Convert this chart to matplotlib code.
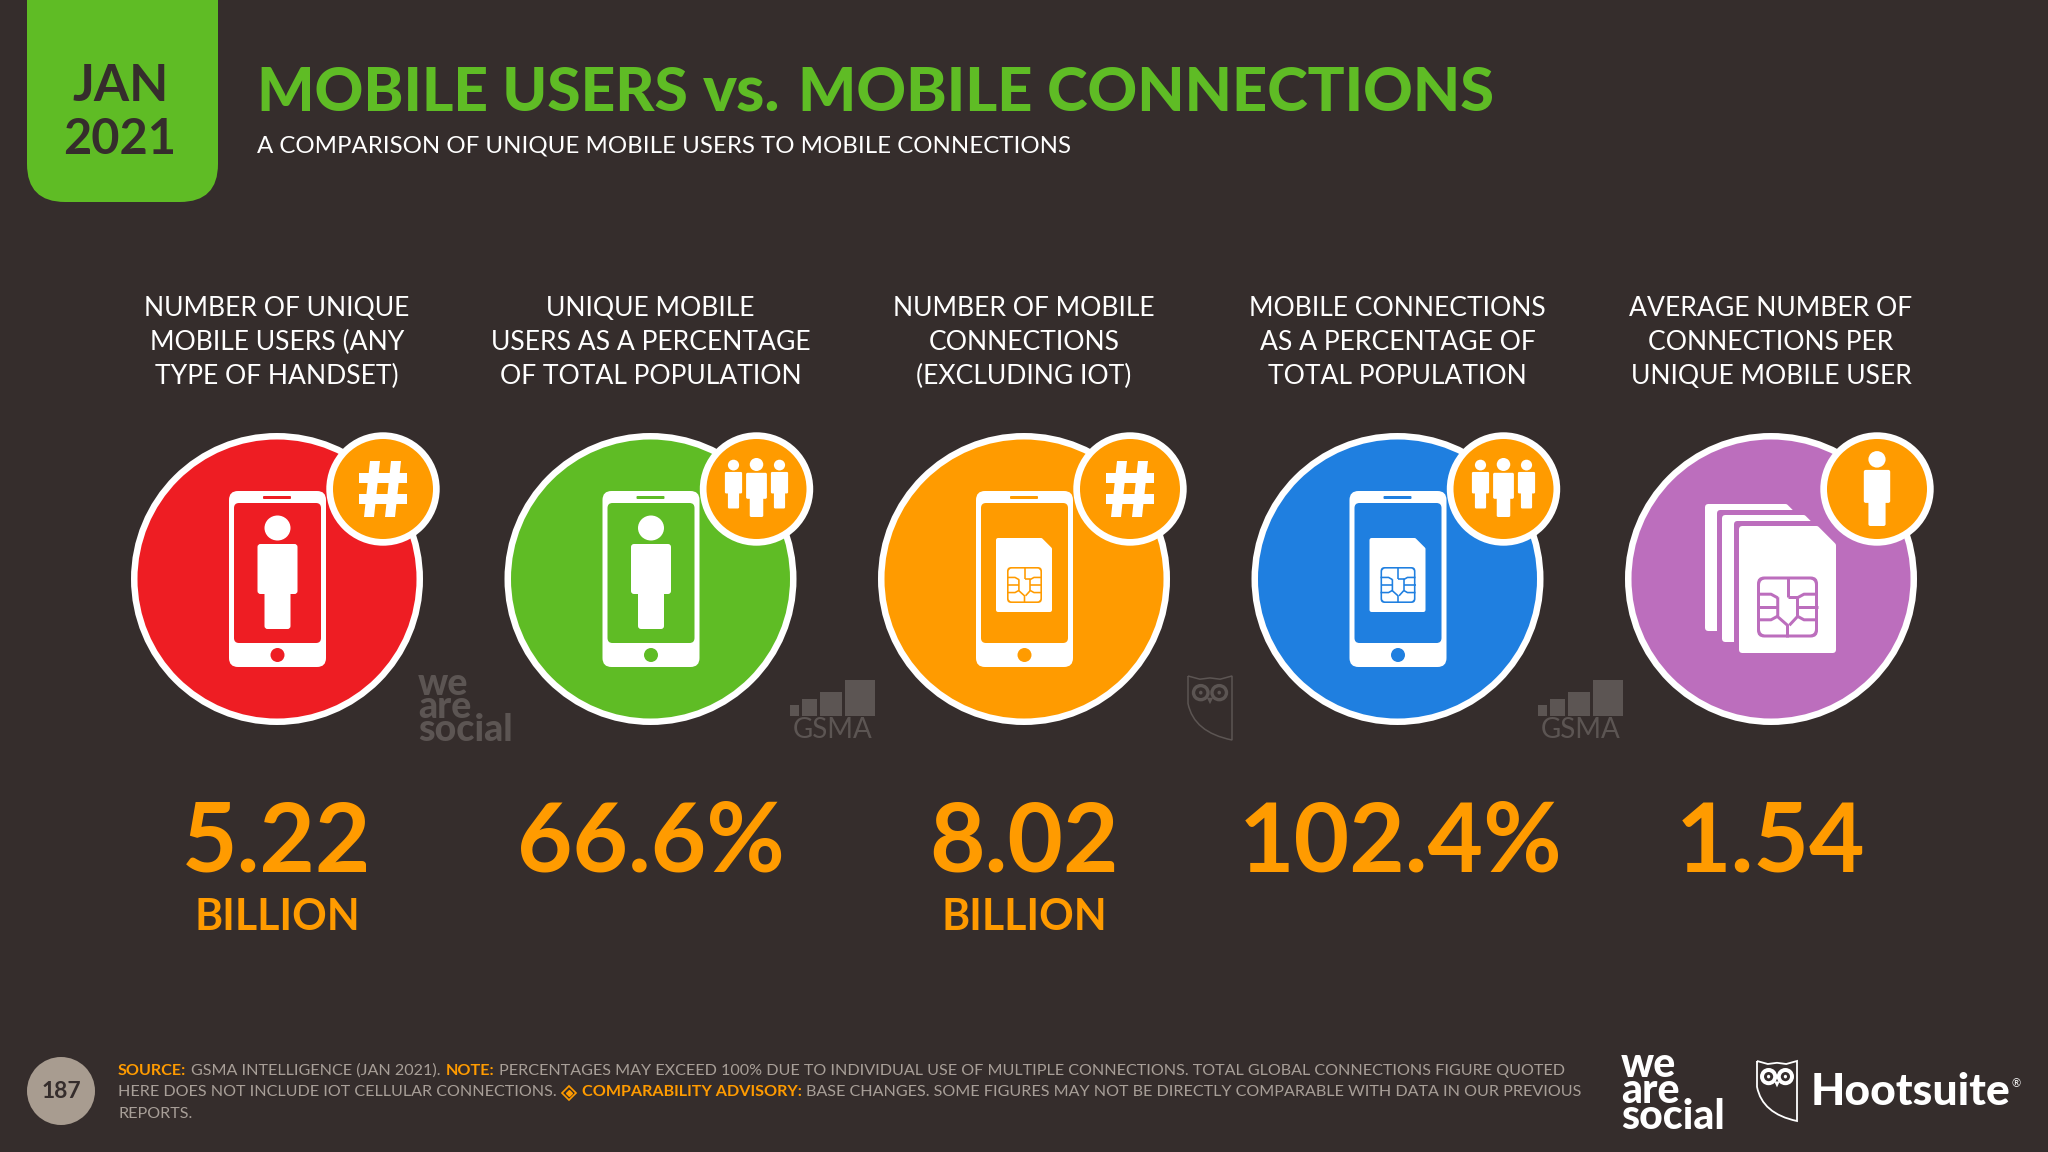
import matplotlib
matplotlib.use('Agg')
import matplotlib.pyplot as plt
from matplotlib.patches import Circle, Ellipse, FancyBboxPatch, PathPatch, Polygon, Rectangle
from matplotlib.path import Path

# data
headers = [
    ['NUMBER OF UNIQUE', 'MOBILE USERS (ANY', 'TYPE OF HANDSET)'],
    ['UNIQUE MOBILE', 'USERS AS A PERCENTAGE', 'OF TOTAL POPULATION'],
    ['NUMBER OF MOBILE', 'CONNECTIONS', '(EXCLUDING IOT)'],
    ['MOBILE CONNECTIONS', 'AS A PERCENTAGE OF', 'TOTAL POPULATION'],
    ['AVERAGE NUMBER OF', 'CONNECTIONS PER', 'UNIQUE MOBILE USER'],
]
values = ['5.22', '66.6%', '8.02', '102.4%', '1.54']
units = ['BILLION', '', 'BILLION', '', '']
circle_colors = ['#EE1D23', '#5FBC25', '#FF9B00', '#1F7FE0', '#BC6EBD']
main_icons = ['phone_person', 'phone_person', 'phone_sim', 'phone_sim', 'sims']
badge_icons = ['hash', 'people', 'hash', 'people', 'person']

footer_lines = [
    [('SOURCE:', True), ('GSMA INTELLIGENCE (JAN 2021).', False), ('NOTE:', True),
     ('PERCENTAGES MAY EXCEED 100% DUE TO INDIVIDUAL USE OF MULTIPLE CONNECTIONS. TOTAL GLOBAL CONNECTIONS FIGURE QUOTED', False)],
    [('HERE DOES NOT INCLUDE IOT CELLULAR CONNECTIONS.', False), ('DIAMOND', True), ('COMPARABILITY ADVISORY:', True),
     ('BASE CHANGES. SOME FIGURES MAY NOT BE DIRECTLY COMPARABLE WITH DATA IN OUR PREVIOUS', False)],
    [('REPORTS.', False)],
]

BG = '#352D2C'
GREEN = '#5FBC25'
ORANGE = '#FF9B00'
WHITE = '#FFFFFF'
MARK = '#5C5553'
FOOT = '#A89F98'
FONT = 'Lato'

fig = plt.figure(figsize=(20.48, 11.52), dpi=100, facecolor=BG)
ax = fig.add_axes([0, 0, 1, 1])
ax.set_xlim(0, 2048)
ax.set_ylim(1152, 0)
ax.axis('off')


def rrect(x0, y0, x1, y1, r, color, z=3, **kw):
    p = FancyBboxPatch((x0 + r, y0 + r), x1 - x0 - 2 * r, y1 - y0 - 2 * r,
                       boxstyle=f'round,pad={r}', fc=color, ec='none', zorder=z, **kw)
    ax.add_patch(p)


def txt(x, y, s, size, color=WHITE, weight='normal', ha='center', va='center', z=6, **kw):
    return ax.text(x, y, s, fontsize=size, color=color, fontweight=weight, ha=ha, va=va,
                   family=FONT, zorder=z, **kw)


def person(cx, cy, s, color, z=5):
    # cy = middle of the figure, s = scale
    ax.add_patch(Ellipse((cx, cy - 51 * s), 26 * s, 25 * s, fc=color, ec='none', zorder=z))
    rrect(cx - 20 * s, cy - 35 * s, cx + 20 * s, cy + 15 * s, 3 * s, color, z)
    rrect(cx - 13 * s, cy + 5 * s, cx + 13 * s, cy + 50 * s, 3 * s, color, z)


def phone(cx, cy, col):
    rrect(cx - 48, cy - 88, cx + 49, cy + 88, 9, WHITE, 4)
    rrect(cx - 43, cy - 76, cx + 44, cy + 64, 5, col, 4.5)
    rrect(cx - 14, cy - 83, cx + 14, cy - 80, 1, col, 4.5)
    ax.add_patch(Ellipse((cx + 0.5, cy + 76), 14, 14, fc=col, ec='none', zorder=4.5))


def chip(cx, cy, w, h, col, lw):
    rrect(cx - w / 2, cy - h / 2, cx + w / 2, cy + h / 2, w * 0.12, col, 6)
    rrect(cx - w / 2 + lw, cy - h / 2 + lw, cx + w / 2 - lw, cy + h / 2 - lw, w * 0.09, WHITE, 6.1)
    lines = [
        [(0, -.5), (0, -.16)],
        [(0, -.16), (.16, -.16), (.16, .16)],
        [(-.16, -.16), (-.16, .16), (0, .3), (0, .5)],
        [(.16, .16), (.03, .3)],
        [(-.5, -.21), (-.27, -.21), (-.16, -.15)],
        [(.5, -.21), (.27, -.21), (.16, -.15)],
        [(-.5, 0), (-.16, 0)],
        [(.5, 0), (.16, 0)],
        [(-.5, .21), (-.27, .21), (-.16, .15)],
        [(.5, .21), (.27, .21), (.16, .15)],
    ]
    for pts in lines:
        ax.plot([cx + a * w for a, b in pts], [cy + b * h for a, b in pts], color=col,
                lw=lw * 0.72, solid_capstyle='butt', zorder=6.2)


def sim(x0, y0, x1, y1, cut, fill, z=5, r=3):
    pts = [(x0 + r, y0 + r), (x1 - cut - r * 0.5, y0 + r), (x1 - r, y0 + cut + r * 0.5),
           (x1 - r, y1 - r), (x0 + r, y1 - r)]
    ax.add_patch(Polygon(pts, closed=True, fc=fill, ec=fill, lw=r * 2 * 0.72,
                         joinstyle='round', zorder=z))


def sims_icon(cx, cy, col):
    sim(cx - 66, cy - 75, cx + 24, cy + 52, 8, WHITE, z=4)
    sim(cx - 54, cy - 69, cx + 42, cy + 68, 8, col, z=4.1)
    sim(cx - 49, cy - 64, cx + 42, cy + 63, 8, WHITE, z=4.2)
    sim(cx - 37, cy - 58, cx + 70, cy + 79, 18, col, z=4.3)
    sim(cx - 32, cy - 53, cx + 65, cy + 74, 18, WHITE, z=4.4)
    chip(cx + 16.5, cy + 28, 61, 61, col, 3)


def hash_icon(cx, cy, color):
    for dx, skew in [(-11, 3), (10, 3)]:
        ax.add_patch(Polygon([(cx + dx - 5 + skew, cy - 28), (cx + dx + 5 + skew, cy - 28),
                              (cx + dx + 5 - skew, cy + 28), (cx + dx - 5 - skew, cy + 28)],
                             fc=color, ec='none', zorder=7))
    for dy in (-11, 10):
        ax.add_patch(Rectangle((cx - 24, cy + dy - 5), 48, 10, fc=color, ec='none', zorder=7))


def owl(x0, y0, x1, y1, color, lw):
    w, h = x1 - x0, y1 - y0
    verts = [(x0, y0), (x0 + .27 * w, y0 + .05 * h), (x0 + .5 * w, y0 + .03 * h),
             (x0 + .73 * w, y0 + .05 * h), (x1, y0), (x1, y1),
             (x0 + .13 * w, y0 + .88 * h), (x0, y0 + .43 * h), (x0, y0)]
    codes = [Path.MOVETO, Path.LINETO, Path.LINETO, Path.LINETO, Path.LINETO, Path.LINETO,
             Path.CURVE3, Path.CURVE3, Path.LINETO]
    ax.add_patch(PathPatch(Path(verts, codes), fc='none', ec=color, lw=lw, zorder=2))
    for dx in (-.21, .21):
        ax.add_patch(Ellipse((x0 + (.5 + dx) * w, y0 + .26 * h), .33 * w, .22 * h, fc='none',
                             ec=color, lw=lw * 2.2, zorder=2))
        ax.add_patch(Ellipse((x0 + (.5 + dx) * w, y0 + .26 * h), .08 * w, .06 * h, fc=color,
                             ec='none', zorder=2))
    ax.add_patch(Polygon([(x0 + .43 * w, y0 + .34 * h), (x0 + .57 * w, y0 + .34 * h),
                          (x0 + .5 * w, y0 + .44 * h)], fc=color, ec='none', zorder=2))


def gsma(x0):
    y_bot = 716
    for dx, w, top in [(0, 9, 705), (12, 15, 699), (30, 22, 692), (55, 30, 680)]:
        ax.add_patch(Rectangle((x0 + dx, top), w, y_bot - top, fc=MARK, ec='none', zorder=2))
    txt(x0 + 43, 730, 'GSMA', 20, MARK)


def wordmark(x, y, size, color, spacing):
    txt(x, y, 'we\nare\nsocial', size, color, 'black', ha='left', linespacing=spacing)


def runs_line(x, y, runs, size):
    # 한 줄에 굵은 글씨/보통 글씨 이어 쓰기
    r = fig.canvas.get_renderer()
    for s, bold in runs:
        if s == 'DIAMOND':
            ax.plot([x + 7], [y], marker='D', ms=7.5, mfc='none', mec=ORANGE, mew=1.2, zorder=6)
            ax.plot([x + 7], [y], marker='D', ms=3, color=ORANGE, zorder=6)
            x += 20
            continue
        t = txt(x, y, s, size, ORANGE if bold else FOOT, 'bold' if bold else 'normal', ha='left')
        x = t.get_window_extent(r).x1 + 5


# top tab and title
ax.add_patch(FancyBboxPatch((27 + 38, -60), 191 - 76, 224, boxstyle='round,pad=38',
                            fc=GREEN, ec='none', zorder=1))
txt(121, 101, 'JAN', 36.5, BG, 'bold', va='baseline')
txt(120, 154, '2021', 35, BG, 'bold', va='baseline')
txt(257, 111, 'MOBILE USERS', 43.5, GREEN, 'black', ha='left', va='baseline')
txt(703, 111, 'vs.', 46, GREEN, 'black', ha='left', va='baseline')
txt(798, 111, 'MOBILE CONNECTIONS', 44.2, GREEN, 'black', ha='left', va='baseline')
txt(257, 153, 'A COMPARISON OF UNIQUE MOBILE USERS TO MOBILE CONNECTIONS', 17.3, ha='left', va='baseline')

# columns
for i in range(5):
    cx = 277 + 373.5 * i
    cy = 579
    col = circle_colors[i]
    for row, line in enumerate(headers[i]):
        txt(cx, 308.5 + row * 34, line, 19.1)

    ax.add_patch(Circle((cx, cy), 146, fc=WHITE, ec='none', zorder=3))
    ax.add_patch(Circle((cx, cy), 139.5, fc=col, ec='none', zorder=3.1))

    if main_icons[i] == 'phone_person':
        phone(cx, cy, col)
        person(cx + 0.5, cy, 1, WHITE)
    elif main_icons[i] == 'phone_sim':
        phone(cx, cy, col)
        sim(cx - 28, cy - 41, cx + 28, cy + 33, 10, WHITE, r=2)
        chip(cx + 0.5, cy + 6, 35, 36, col, 1.6)
    else:
        sims_icon(cx, cy, col)

    bx, by = cx + 106, cy - 90
    ax.add_patch(Circle((bx, by), 56.7, fc=WHITE, ec='none', zorder=6.5))
    ax.add_patch(Circle((bx, by), 50, fc=ORANGE, ec='none', zorder=6.6))
    if badge_icons[i] == 'hash':
        hash_icon(bx, by, WHITE)
    elif badge_icons[i] == 'people':
        person(bx - 23, by - 2, 0.43, WHITE, 7)
        person(bx + 23, by - 2, 0.43, WHITE, 7)
        person(bx, by + 2, 0.52, WHITE, 7)
    else:
        person(bx, by + 4, 0.66, WHITE, 7)

    txt(cx + (3 if i == 3 else 0), 844, values[i], 69, ORANGE, 'bold')
    if units[i]:
        txt(cx, 917, units[i], 30.8, ORANGE, 'bold')

# source marks beside the circles
wordmark(418, 707, 27, MARK, 0.62)
gsma(790)
gsma(1538)
owl(1188, 676, 1232, 740, MARK, 1.1)

# footer
ax.add_patch(Circle((61, 1091), 34, fc='#A89C90', ec='none', zorder=3))
txt(61, 1092, '187', 16.5, BG, 'bold')
for row, line in enumerate(footer_lines):
    runs_line(118, 1071 + row * 21.5, line, 11.6)

wordmark(1621, 1091, 29.5, WHITE, 0.6)
owl(1757, 1061, 1797, 1121, WHITE, 1.3)
txt(1811, 1092, 'Hootsuite', 32, WHITE, 'black', ha='left')
txt(2012, 1084, '®', 8, WHITE, ha='left')

fig.savefig('out.png', dpi=100, facecolor=BG)
